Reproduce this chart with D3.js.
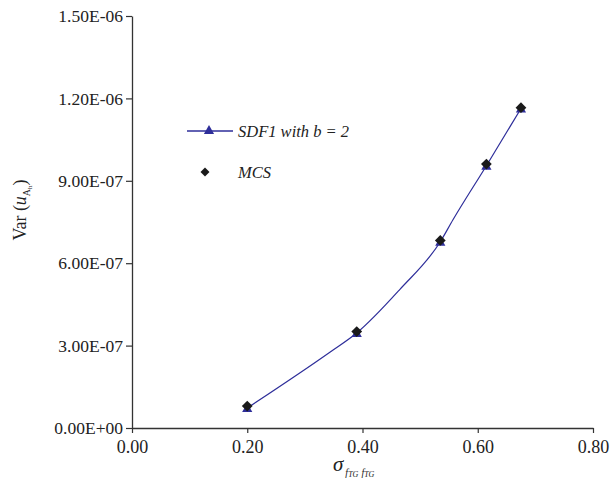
<!DOCTYPE html>
<html>
<head>
<meta charset="utf-8">
<script src="https://cdn.jsdelivr.net/npm/d3@7"></script>
<style>
  body { margin: 0; background: #fff; }
  svg text { font-family: "Liberation Serif", "Times New Roman", serif; fill: #222; }
</style>
</head>
<body>
<div id="chart"></div>
<script>
// values
const sigma = [0.20, 0.39, 0.535, 0.615, 0.675];
const sdfVar = [7.3e-8, 3.46e-7, 6.78e-7, 9.55e-7, 1.163e-6];
const mcsVar = [8.0e-8, 3.51e-7, 6.83e-7, 9.61e-7, 1.166e-6];
// SDF1 curve drawn through a few more points than the markers
const curveSigma = [0.20, 0.344, 0.39, 0.465, 0.535, 0.557, 0.615, 0.675];
const curveVar = [7.3e-8, 2.77e-7, 3.46e-7, 5.05e-7, 6.78e-7, 7.58e-7, 9.55e-7, 1.163e-6];

const xTicks = [0, 0.2, 0.4, 0.6, 0.8];
const xTickLabels = ["0.00", "0.20", "0.40", "0.60", "0.80"];
const yTicks = [0, 3e-7, 6e-7, 9e-7, 1.2e-6, 1.5e-6];
const yTickLabels = ["0.00E+00", "3.00E-07", "6.00E-07", "9.00E-07", "1.20E-06", "1.50E-06"];

const serif = "Liberation Serif, Times New Roman, serif";
const width = 612, height = 485;
const margin = {top: 16, right: 19, bottom: 57, left: 132};
const innerW = width - margin.left - margin.right;
const innerH = height - margin.top - margin.bottom;

const svg = d3.select("#chart").append("svg")
    .attr("width", width)
    .attr("height", height)
    .attr("font-family", serif);

const g = svg.append("g")
    .attr("transform", "translate(" + margin.left + "," + margin.top + ")");

const xScale = d3.scaleLinear().domain([0, 0.8]).range([0, innerW]);
const yScale = d3.scaleLinear().domain([0, 1.5e-6]).range([innerH, 0]);

// axes
const xAxis = g.append("g")
    .attr("transform", "translate(0," + innerH + ")")
    .call(d3.axisBottom(xScale).tickValues(xTicks)
        .tickFormat((d, i) => xTickLabels[i]).tickSize(5).tickSizeOuter(0).tickPadding(7));
const yAxis = g.append("g")
    .call(d3.axisLeft(yScale).tickValues(yTicks)
        .tickFormat((d, i) => yTickLabels[i]).tickSize(6).tickSizeOuter(0).tickPadding(3));

xAxis.attr("font-size", 18);
yAxis.attr("font-size", 17.5);
[xAxis, yAxis].forEach(a => {
    a.attr("font-family", serif);
    a.select(".domain").attr("stroke", "#333").attr("stroke-width", 1.3);
    a.selectAll(".tick line").attr("stroke", "#333").attr("stroke-width", 1.2);
    a.selectAll(".tick text").attr("fill", "#222");
});

const blue = "#2e2e9a";
const black = "#1a1a1a";

// SDF1 curve
const line = d3.line()
    .x((d, i) => xScale(curveSigma[i]))
    .y(d => yScale(d))
    .curve(d3.curveMonotoneX);

g.append("path")
    .datum(curveVar)
    .attr("fill", "none")
    .attr("stroke", blue)
    .attr("stroke-width", 1.2)
    .attr("d", line);

const tri = d3.symbol().type(d3.symbolTriangle).size(45);
// diamond = square turned 45 degrees
const dia = d3.symbol().type(d3.symbolSquare).size(58);

g.selectAll(".triMark")
    .data(sdfVar)
    .join("path")
    .attr("class", "triMark")
    .attr("d", tri)
    .attr("fill", blue)
    .attr("transform", (d, i) => "translate(" + xScale(sigma[i]) + "," + (yScale(d) + 1) + ")");

g.selectAll(".diaMark")
    .data(mcsVar)
    .join("path")
    .attr("class", "diaMark")
    .attr("d", dia)
    .attr("fill", black)
    .attr("transform", (d, i) => "translate(" + xScale(sigma[i]) + "," + yScale(d) + ") rotate(45)");

// legend
const legend = svg.append("g");
legend.append("line")
    .attr("x1", 187).attr("x2", 233).attr("y1", 131).attr("y2", 131)
    .attr("stroke", blue).attr("stroke-width", 1.3);
legend.append("path")
    .attr("d", tri)
    .attr("fill", blue)
    .attr("transform", "translate(209,131)");
legend.append("text")
    .attr("x", 238).attr("y", 137)
    .style("font-size", "16.5px")
    .style("font-style", "italic")
    .text("SDF1 with b = 2");
legend.append("path")
    .attr("d", d3.symbol().type(d3.symbolSquare).size(40))
    .attr("fill", black)
    .attr("transform", "translate(205,172) rotate(45)");
legend.append("text")
    .attr("x", 238).attr("y", 178)
    .style("font-size", "16.5px")
    .style("font-style", "italic")
    .text("MCS");

// x axis title: sigma with subscript f_TG f_TG
const xTitle = svg.append("text")
    .attr("x", 333).attr("y", 471)
    .style("font-size", "21px");
xTitle.append("tspan").style("font-style", "italic").text("σ");
xTitle.append("tspan")
    .attr("dx", 2).attr("dy", 5)
    .style("font-size", "10px")
    .style("font-style", "italic")
    .text("f");
xTitle.append("tspan")
    .attr("dy", 1)
    .style("font-size", "8px")
    .style("font-style", "italic")
    .text("TG");
xTitle.append("tspan")
    .attr("dx", 3).attr("dy", -1)
    .style("font-size", "10px")
    .style("font-style", "italic")
    .text("f");
xTitle.append("tspan")
    .attr("dy", 1)
    .style("font-size", "8px")
    .style("font-style", "italic")
    .text("TG");

// y axis title: Var (u_{A_h})
const yTitle = svg.append("text")
    .attr("transform", "translate(26,210) rotate(-90)")
    .attr("text-anchor", "middle")
    .style("font-size", "18px");
yTitle.append("tspan").text("Var (");
yTitle.append("tspan").style("font-style", "italic").text("u");
yTitle.append("tspan").attr("dy", 4).style("font-size", "10px").text("A");
yTitle.append("tspan").attr("dy", 2).style("font-size", "7px").text("h");
yTitle.append("tspan").attr("dy", -6).text(")");
</script>
</body>
</html>
